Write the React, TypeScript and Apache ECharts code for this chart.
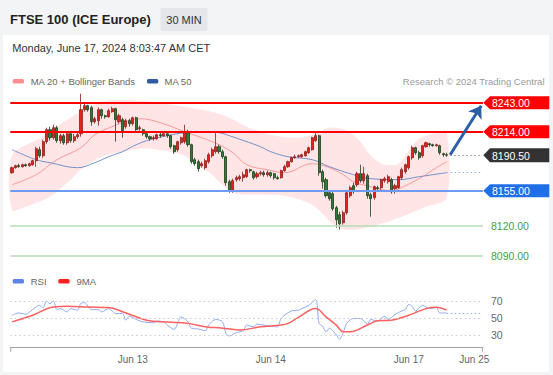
import React, { useEffect, useRef } from "react";
import * as echarts from "echarts";

const FONT = '"Liberation Sans", Arial, Helvetica, sans-serif';

// ---------- axis scaffolding ----------
const categoryCount = 137;
const tickIndex = [35, 75, 115, 134];
const tickLabels = ["Jun 13", "Jun 14", "Jun 17", "Jun 25"];

// ---------- candles: [open, close, low, high] ----------
const candles: number[][] = [
  [8173, 8178, 8172, 8179], [8178, 8180, 8177, 8181], [8180, 8179, 8178, 8182], [8179, 8181, 8178, 8182],
  [8181, 8180, 8179, 8182], [8180, 8182, 8179, 8183], [8181, 8185, 8180, 8186], [8185, 8197, 8179, 8199],
  [8196, 8190, 8188, 8199], [8190, 8204, 8188, 8206], [8204, 8216, 8202, 8218], [8216, 8208, 8205, 8219],
  [8208, 8218, 8206, 8221], [8218, 8205, 8203, 8220], [8205, 8210, 8202, 8212], [8210, 8203, 8201, 8212],
  [8203, 8212, 8201, 8213], [8212, 8205, 8203, 8214], [8205, 8209, 8203, 8212], [8209, 8211, 8207, 8214],
  [8212, 8236, 8209, 8252], [8236, 8240, 8234, 8242], [8240, 8236, 8234, 8241], [8238, 8224, 8220, 8240],
  [8224, 8227, 8222, 8229], [8225, 8236, 8220, 8238], [8236, 8230, 8227, 8237], [8230, 8229, 8227, 8231],
  [8229, 8235, 8228, 8237], [8234, 8237, 8233, 8239], [8237, 8226, 8204, 8238], [8224, 8230, 8222, 8232],
  [8226, 8215, 8208, 8228], [8219, 8225, 8217, 8227], [8225, 8222, 8219, 8227], [8222, 8228, 8220, 8229],
  [8228, 8216, 8214, 8229], [8217, 8218, 8215, 8220], [8216, 8212, 8210, 8217], [8212, 8209, 8207, 8213],
  [8209, 8207, 8205, 8210], [8207, 8208, 8205, 8210], [8207, 8211, 8206, 8212], [8211, 8210, 8208, 8213],
  [8210, 8212, 8209, 8213], [8212, 8210, 8208, 8213], [8210, 8199, 8197, 8211], [8200, 8194, 8192, 8201],
  [8196, 8204, 8194, 8205], [8203, 8208, 8201, 8209], [8204, 8214, 8202, 8221], [8213, 8201, 8199, 8216],
  [8201, 8184, 8182, 8202], [8186, 8182, 8180, 8188], [8184, 8177, 8174, 8186], [8180, 8182, 8178, 8184],
  [8178, 8185, 8176, 8187], [8184, 8191, 8182, 8193], [8190, 8196, 8188, 8198], [8194, 8199, 8192, 8213],
  [8199, 8194, 8192, 8201], [8194, 8189, 8187, 8196], [8189, 8163, 8160, 8190], [8164, 8155, 8153, 8166],
  [8156, 8165, 8153, 8167], [8166, 8168, 8164, 8170], [8167, 8169, 8165, 8171], [8168, 8171, 8164, 8174],
  [8169, 8176, 8168, 8177], [8176, 8175, 8173, 8177], [8174, 8168, 8166, 8175], [8169, 8172, 8167, 8174],
  [8172, 8173, 8170, 8175], [8173, 8171, 8169, 8175], [8171, 8173, 8169, 8175], [8173, 8170, 8168, 8174],
  [8172, 8168, 8166, 8173], [8168, 8167, 8166, 8170], [8168, 8175, 8167, 8176], [8175, 8179, 8174, 8181],
  [8179, 8184, 8178, 8185], [8184, 8188, 8183, 8189], [8188, 8189, 8187, 8191], [8189, 8190, 8188, 8191],
  [8189, 8191, 8188, 8192], [8190, 8194, 8189, 8195], [8193, 8198, 8192, 8199], [8196, 8208, 8195, 8209],
  [8205, 8210, 8204, 8213], [8210, 8173, 8170, 8211], [8174, 8164, 8157, 8176], [8166, 8150, 8148, 8168],
  [8153, 8147, 8145, 8155], [8152, 8137, 8135, 8154], [8138, 8126, 8118, 8140], [8131, 8122, 8116, 8134],
  [8123, 8133, 8121, 8135], [8133, 8153, 8131, 8155], [8150, 8158, 8148, 8160], [8160, 8154, 8152, 8163],
  [8161, 8172, 8159, 8174], [8172, 8165, 8163, 8181], [8165, 8172, 8162, 8179], [8170, 8150, 8147, 8172],
  [8151, 8147, 8129, 8153], [8148, 8159, 8146, 8160], [8158, 8157, 8155, 8160], [8158, 8166, 8156, 8167],
  [8165, 8167, 8163, 8169], [8164, 8169, 8162, 8171], [8166, 8154, 8152, 8168], [8157, 8160, 8152, 8162],
  [8158, 8169, 8157, 8170], [8168, 8176, 8166, 8178], [8174, 8181, 8172, 8182], [8178, 8189, 8176, 8190],
  [8188, 8198, 8186, 8200], [8198, 8193, 8191, 8199], [8193, 8188, 8186, 8195], [8190, 8200, 8188, 8201],
  [8199, 8203, 8198, 8204], [8202, 8201, 8199, 8203], [8201, 8200, 8199, 8202], [8200, 8201, 8199, 8202],
  [8200, 8193, 8191, 8201], [8192, 8191, 8189, 8193], [8191, 8190.5, 8189, 8193],
];

// ---------- indicators: [candle index, value] ----------
const ma20: number[][] = [
  [0, 8161], [7, 8171], [13, 8186], [20, 8198], [24, 8211], [29, 8219], [32, 8223], [37, 8227], [43, 8223],
  [50, 8214], [55, 8208], [60, 8201], [64, 8193], [68, 8181], [74, 8176], [79, 8173], [87, 8182], [92, 8178],
  [96, 8171], [99, 8164], [104, 8159], [110, 8155], [114, 8160], [119, 8169], [123, 8178], [126, 8184],
];
const ma50: number[][] = [
  [0, 8196], [7, 8186], [11, 8183], [19, 8178], [24, 8183], [28, 8189], [32, 8194], [36, 8201], [40, 8206],
  [45, 8210], [50, 8213], [55, 8214], [60, 8213], [63, 8210], [72, 8199], [75, 8194], [80, 8189], [87, 8186],
  [92, 8179], [99, 8171], [104, 8167], [112, 8166], [118, 8169], [126, 8173],
];
const upperBand: number[][] = [
  [0, 8190], [9, 8209], [16, 8226], [21, 8236], [26, 8244], [30, 8246], [40, 8244], [50, 8239], [59, 8233],
  [63, 8228], [68, 8219], [73, 8213], [78, 8209], [83, 8208], [88, 8212], [92, 8218], [97, 8215], [101, 8204],
  [104, 8190], [108, 8181], [112, 8182], [115, 8195], [118, 8207], [123, 8213], [126, 8214],
];
const lowerBand: number[][] = [
  [0, 8136], [4, 8139], [11, 8149], [16, 8163], [21, 8179], [26, 8189], [32, 8194], [40, 8197], [50, 8190],
  [54, 8180], [57, 8174], [64, 8153], [72, 8151], [79, 8150], [87, 8141], [94, 8119], [99, 8116], [106, 8121],
  [113, 8129], [120, 8139], [126, 8148],
];
const rsi: number[][] = [
  [0, 53.8], [2, 56.5], [4, 55], [6, 60.5], [8, 65.5], [9, 62.8], [10, 70.5], [11, 67.4], [12, 70.5], [13, 60.5],
  [14, 61.6], [16, 57.7], [17, 61.6], [19, 59.7], [20, 68.1], [21, 68.6], [23, 60.5], [25, 60.5], [26, 57.7],
  [28, 61.6], [29, 58.8], [30, 55.8], [32, 55.8], [33, 48], [34, 52.7], [36, 48.8], [38, 46], [41, 44.9],
  [42, 46.9], [44, 46], [45, 42.2], [47, 37.2], [48, 44.2], [49, 51.9], [51, 46], [52, 38.4], [54, 37.6],
  [56, 35.6], [57, 42.2], [59, 48.8], [61, 46], [62, 32.6], [63, 29.4], [65, 33.3], [67, 35.6], [68, 42.2],
  [70, 40.2], [71, 43.4], [73, 42.2], [75, 41], [77, 40.2], [78, 50], [81, 58.8], [83, 59.7], [84, 61.6],
  [86, 65.5], [88, 72.1], [89, 44.2], [90, 41], [91, 34.4], [92, 38.4], [94, 30.6], [95, 25.6], [96, 33.3],
  [97, 44.2], [99, 50], [101, 50], [103, 43.4], [104, 48.8], [106, 46.9], [108, 52.7], [109, 48.8], [111, 54.7],
  [113, 58.8], [114, 60.5], [115, 66.6], [116, 64.3], [117, 58.8], [119, 65.5], [121, 61.6], [123, 62.8],
  [124, 56.5], [126, 56.5],
];
const rsiMa: number[][] = [
  [0, 46], [6, 53.8], [12, 63.5], [16, 64.3], [22, 63.5], [28, 62.8], [33, 56.5], [39, 48], [45, 45.7],
  [51, 44.2], [57, 39.5], [60, 39.1], [66, 36.4], [72, 40.2], [78, 42.2], [80, 44.2], [83, 51.2], [88, 61.6],
  [91, 51.9], [94, 42.2], [96, 34.4], [98, 34.4], [103, 42.2], [106, 47.2], [110, 48], [115, 53.8],
  [120, 61.6], [123, 63.1], [126, 60],
];

// ---------- levels ----------
const resistanceLevels = [8243, 8214];
const supportLevel = 8155;
const targetLevels = [8120, 8090];
const lastPrice = 8190.5;
const arrowTarget = 8240;
const rsiLevels = [70, 50, 30];

const categories = Array.from({ length: categoryCount }, (_, i) => String(i));
const lastIdx = candles.length - 1;
const endIdx = categoryCount - 1;

const GRID_LEFT = 10.3;
const GRID_WIDTH = 472.65;

function buildOption() {
  return {
    animation: false,
    backgroundColor: "#f3f4f6",
    textStyle: { fontFamily: FONT },
    grid: [
      { left: GRID_LEFT, width: GRID_WIDTH, top: 85.7, height: 180 },
      { left: GRID_LEFT, width: GRID_WIDTH, top: 293, height: 54.3 },
    ],
    xAxis: [
      { type: "category", data: categories, gridIndex: 0, show: false, boundaryGap: true },
      {
        type: "category",
        data: categories,
        gridIndex: 1,
        boundaryGap: true,
        axisLine: { show: true, lineStyle: { color: "#a3a3a3", width: 1 } },
        axisTick: { show: false },
        splitLine: { show: false },
        axisLabel: {
          interval: (i: number) => tickIndex.includes(i),
          formatter: (_v: string, i: number) => {
            const k = tickIndex.indexOf(i);
            return k >= 0 ? tickLabels[k] : "";
          },
          color: "#666",
          fontSize: 10,
          fontFamily: FONT,
          margin: 7,
        },
      },
    ],
    yAxis: [
      { type: "value", gridIndex: 0, min: 8080, max: 8260, show: false },
      { type: "value", gridIndex: 1, min: 16, max: 80, show: false },
    ],
    series: [
      {
        type: "custom",
        xAxisIndex: 0,
        yAxisIndex: 0,
        z: 1,
        silent: true,
        data: [[0, 8200]],
        encode: { x: 0, y: 1 },
        renderItem: (_params: any, api: any) => {
          const top = upperBand.map(([i, v]) => api.coord([i, v]));
          const bottom = lowerBand
            .slice()
            .reverse()
            .map(([i, v]) => api.coord([i, v]));
          return {
            type: "polygon",
            shape: { points: top.concat(bottom), smooth: 0.3 },
            style: { fill: "rgba(255,70,70,0.14)" },
          };
        },
      },
      {
        type: "line",
        xAxisIndex: 0,
        yAxisIndex: 0,
        data: ma20,
        smooth: 0.4,
        symbol: "none",
        silent: true,
        z: 2,
        lineStyle: { color: "#f79a9a", width: 1 },
      },
      {
        type: "line",
        xAxisIndex: 0,
        yAxisIndex: 0,
        data: ma50,
        smooth: 0.4,
        symbol: "none",
        silent: true,
        z: 2,
        lineStyle: { color: "#7391c9", width: 1 },
      },
      {
        type: "candlestick",
        xAxisIndex: 0,
        yAxisIndex: 0,
        data: candles,
        barWidth: 2.6,
        silent: true,
        z: 3,
        itemStyle: {
          color: "#e3231d",
          color0: "#2e7d32",
          borderColor: "#8c1d1a",
          borderColor0: "#1d3b1e",
          borderWidth: 0.8,
        },
        markLine: {
          silent: true,
          symbol: ["none", "none"],
          label: { show: false },
          data: [
            ...resistanceLevels.map((v) => ({
              yAxis: v,
              lineStyle: { color: "#ff0000", width: 2, type: "solid" },
              label: { show: false },
            })),
            {
              yAxis: supportLevel,
              lineStyle: { color: "#6d9bf1", width: 2, type: "solid" },
              label: { show: false },
            },
            ...targetLevels.map((v) => ({
              yAxis: v,
              lineStyle: { color: "#b5dcb5", width: 1.5, type: "solid" },
              label: {
                show: true,
                position: "end",
                distance: 8,
                formatter: v.toFixed(2),
                color: "#43a047",
                fontSize: 10.5,
                fontFamily: FONT,
              },
            })),
            [
              { coord: [lastIdx + 1, lastPrice], lineStyle: { color: "#8a8a8a", width: 1, type: [1.5, 2.5] }, label: { show: false } },
              { coord: [endIdx, lastPrice], lineStyle: { color: "#8a8a8a", width: 1, type: [1.5, 2.5] } },
            ],
            [
              { coord: [lastIdx, ma50[ma50.length - 1][1]], lineStyle: { color: "#9fb4de", width: 1, type: [1.5, 2.5] }, label: { show: false } },
              { coord: [endIdx, ma50[ma50.length - 1][1]], lineStyle: { color: "#9fb4de", width: 1, type: [1.5, 2.5] } },
            ],
            [
              { coord: [lastIdx + 1, lastPrice + 0.5], symbol: "none", lineStyle: { color: "#2c5ea8", width: 3, type: "solid" }, label: { show: false } },
              { coord: [endIdx, arrowTarget], symbol: "arrow", symbolSize: 12, lineStyle: { color: "#2c5ea8", width: 3, type: "solid" } },
            ],
          ],
        },
      },
      {
        type: "line",
        xAxisIndex: 1,
        yAxisIndex: 1,
        data: rsi,
        smooth: 0.3,
        symbol: "none",
        silent: true,
        z: 3,
        lineStyle: { color: "#8eabf2", width: 1 },
        markLine: {
          silent: true,
          symbol: ["none", "none"],
          lineStyle: { color: "#c9c9c9", width: 1, type: [1.5, 3] },
          label: {
            show: true,
            position: "end",
            distance: 8,
            color: "#666",
            fontSize: 10.5,
            fontFamily: FONT,
            formatter: (p: any) => String(p.value),
          },
          data: [
            ...rsiLevels.map((v) => ({ yAxis: v })),
            [
              { coord: [lastIdx, rsi[rsi.length - 1][1]], lineStyle: { color: "#8eabf2", width: 1, type: [1.5, 2.5] }, label: { show: false } },
              { coord: [endIdx, rsi[rsi.length - 1][1]], lineStyle: { color: "#8eabf2", width: 1, type: [1.5, 2.5] }, label: { show: false } },
            ],
          ],
        },
      },
      {
        type: "line",
        xAxisIndex: 1,
        yAxisIndex: 1,
        data: rsiMa,
        smooth: 0.4,
        symbol: "none",
        silent: true,
        z: 4,
        lineStyle: { color: "#ff6060", width: 1.5 },
      },
    ],
  };
}

function txt(x: number, y: number, text: string, size: number, fill: string, extra: any = {}) {
  return {
    type: "text",
    x,
    y,
    silent: true,
    z: 10,
    style: { text, fontSize: size, fontFamily: FONT, fill, verticalAlign: "middle", align: "left", ...extra },
  };
}

function buildGraphics(py: (v: number) => number) {
  const els: any[] = [];
  // white card
  els.push({ type: "rect", z: -1, silent: true, shape: { x: 3, y: 35, width: 546, height: 337 }, style: { fill: "#ffffff" } });
  // header
  els.push(txt(10, 19.4, "FTSE 100 (ICE Europe)", 13, "#222", { fontWeight: "bold" }));
  els.push({ type: "rect", z: 9, silent: true, shape: { x: 160.5, y: 8, width: 47, height: 23, r: 2 }, style: { fill: "#e4e6e9" } });
  els.push(txt(184, 19.6, "30 MIN", 11, "#333", { align: "center" }));
  els.push(txt(12.3, 47.6, "Monday, June 17, 2024 8:03:47 AM CET", 11, "#333"));
  // main legend
  els.push({ type: "rect", z: 10, silent: true, shape: { x: 12.7, y: 79, width: 11.3, height: 4.5, r: 1.5 }, style: { fill: "#ff8e8e" } });
  els.push(txt(30.7, 81.3, "MA 20 + Bollinger Bands", 9.5, "#666"));
  els.push({ type: "rect", z: 10, silent: true, shape: { x: 147, y: 79, width: 11.3, height: 4.5, r: 1.5 }, style: { fill: "#2f5ca0" } });
  els.push(txt(164.5, 81.3, "MA 50", 9.5, "#666"));
  els.push(txt(544.5, 81.3, "Research © 2024 Trading Central", 9.5, "#9a9a9a", { align: "right" }));
  // RSI legend
  els.push({ type: "rect", z: 10, silent: true, shape: { x: 12.7, y: 279, width: 11.3, height: 4.5, r: 1.5 }, style: { fill: "#5b83e8" } });
  els.push(txt(30.7, 281.2, "RSI", 9.5, "#666"));
  els.push({ type: "rect", z: 10, silent: true, shape: { x: 58.3, y: 279, width: 11.3, height: 4.5, r: 1.5 }, style: { fill: "#ff2020" } });
  els.push(txt(76.5, 281.2, "9MA", 9.5, "#666"));
  // axis end ticks
  const axisY = 347.3;
  [GRID_LEFT + 0.5, GRID_LEFT + GRID_WIDTH - 0.5].forEach((x) => {
    els.push({ type: "line", z: 10, silent: true, shape: { x1: x, y1: axisY, x2: x, y2: axisY + 4.5 }, style: { stroke: "#a3a3a3", lineWidth: 1 } });
  });
  // price tags
  const tags = [
    { v: resistanceLevels[0], fill: "#ff0000", h: 13 },
    { v: resistanceLevels[1], fill: "#ff0000", h: 13 },
    { v: supportLevel, fill: "#1f6fe8", h: 13 },
    { v: lastPrice, fill: "#333333", h: 14 },
  ];
  const tipX = 483.3;
  const bodyX = 490;
  const rightX = 549.3;
  tags.forEach((t) => {
    const y = py(t.v);
    const hh = t.h / 2;
    els.push({
      type: "polygon",
      z: 10,
      silent: true,
      shape: { points: [[tipX, y], [bodyX, y - hh], [rightX, y - hh], [rightX, y + hh], [bodyX, y + hh]] },
      style: { fill: t.fill },
    });
    els.push(txt(492, y + 0.3, t.v.toFixed(2), 10.5, "#ffffff"));
  });
  return els;
}

export default function App() {
  const ref = useRef<HTMLDivElement>(null);
  useEffect(() => {
    const el = ref.current;
    if (!el) return;
    const chart = echarts.init(el, null, { renderer: "svg" });
    chart.setOption(buildOption() as any);
    const py = (v: number) => chart.convertToPixel({ yAxisIndex: 0 } as any, v) as unknown as number;
    chart.setOption({ graphic: { elements: buildGraphics(py) } } as any);
    return () => chart.dispose();
  }, []);
  return <div ref={ref} style={{ position: "absolute", left: 0, top: 0, width: 553, height: 375 }} />;
}
